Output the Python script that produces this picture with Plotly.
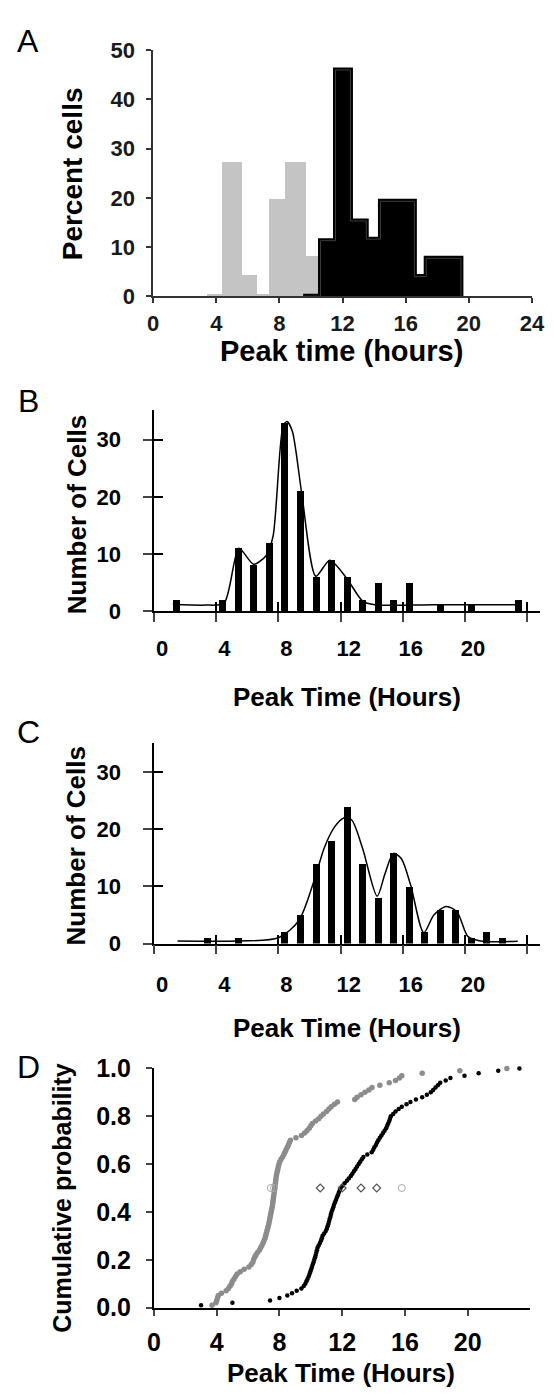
import plotly.graph_objects as go
import plotly.express as px

W, H = 554, 1399

# ---------------- Panel A data (percent cells) ----------------
a_gray_edges = [3.45, 4.35, 5.65, 6.62, 7.35, 8.35, 9.67, 10.5, 11.6, 13.44, 14.56]
a_gray_pct = [0.4, 27.3, 4.3, 0.4, 19.8, 27.3, 8.2, 11.0, 0.0, 4.1]
a_black_edges = [9.5, 10.6, 11.55, 12.5, 13.5, 14.4, 16.55, 17.3, 19.5]
a_black_pct = [0, 11.3, 46.0, 15.3, 11.6, 19.3, 4.0, 7.7]
a_xticks = [0, 4, 8, 12, 16, 20, 24]
a_yticks = [0, 10, 20, 30, 40, 50]

# ---------------- Panel B data ----------------
b_bin_x = [1.43, 4.43, 5.43, 6.43, 7.43, 8.43, 9.43, 10.43, 11.43, 12.43, 13.43,
           14.43, 15.43, 16.43, 18.43, 20.43, 23.43]
b_counts = [2, 2, 11, 8, 12, 33, 21, 6, 9, 6, 2, 5, 2, 5, 1, 1, 2]
b_curve_x = [1.2, 3.3, 4.5, 5.45, 6.4, 7.2, 7.65, 8.3, 8.55, 8.9, 9.5, 10.4, 11.3,
             12.35, 13.4, 14.2, 18.0, 23.5]
b_curve_y = [1.2, 1.05, 1.4, 11.0, 8.2, 9.7, 13.1, 32.5, 33.2, 31.4, 20.5, 6.1, 8.9,
             5.9, 1.8, 1.1, 1.1, 1.1]

# ---------------- Panel C data ----------------
c_bin_x = [3.43, 5.43, 8.43, 9.43, 10.43, 11.43, 12.43, 13.43, 14.43, 15.43, 16.43,
           17.43, 18.43, 19.43, 20.43, 21.43, 22.43]
c_counts = [1, 1, 2, 5, 14, 18, 24, 14, 8, 16, 10, 2, 6, 6, 1, 2, 1]
c_curve_x = [1.5, 5.4, 8.0, 9.3, 10.3, 10.95, 11.6, 12.2, 12.7, 13.4, 14.35, 14.85,
             15.4, 15.9, 16.5, 17.35, 18.0, 18.8, 19.5, 20.2, 21.0, 23.4]
c_curve_y = [0.45, 0.45, 1.0, 4.0, 11.1, 16.8, 20.4, 22.0, 21.7, 16.8, 8.3, 12.2,
             15.8, 14.9, 10.3, 1.9, 5.0, 6.5, 5.5, 1.2, 0.45, 0.4]
bc_xticks = [0, 4, 8, 12, 16, 20, 24]
bc_xticktext = ["0", "4", "8", "12", "16", "20", ""]
bc_yticks = [0, 10, 20, 30]

# ---------------- Panel D data (peak times of individual cells) ----------------
d_gray_times = [3.7, 3.95, 4.0, 4.05, 4.1, 4.3, 4.6, 4.75, 4.85, 4.95,
                5.0, 5.1, 5.2, 5.3, 5.5, 5.75, 6.05, 6.2, 6.3, 6.35,
                6.42, 6.5, 6.6, 6.72, 6.8, 6.88, 6.95, 7.02, 7.08, 7.12,
                7.16, 7.2, 7.24, 7.28, 7.32, 7.35, 7.38, 7.41, 7.44, 7.47,
                7.5, 7.53, 7.56, 7.58, 7.6, 7.62, 7.64, 7.66, 7.68, 7.7,
                7.72, 7.74, 7.76, 7.78, 7.8, 7.83, 7.86, 7.9, 7.93, 7.97,
                8.02, 8.1, 8.2, 8.28, 8.35, 8.42, 8.5, 8.57, 8.63, 8.7,
                9.05, 9.4, 9.6, 9.75, 9.9, 10.0, 10.1, 10.3, 10.5, 10.65,
                10.8, 11.0, 11.15, 11.3, 11.5, 11.7, 12.8, 12.95, 13.2, 13.45,
                13.7, 13.9, 14.4, 15.0, 15.4, 15.65, 15.8, 17.1, 19.5, 22.5]
d_black_times = [3.0, 5.0, 7.4, 8.0, 8.5, 8.8, 9.1, 9.4, 9.55, 9.65,
                 9.72, 9.79, 9.86, 9.92, 9.97, 10.02, 10.07, 10.12, 10.17, 10.22,
                 10.27, 10.31, 10.35, 10.39, 10.43, 10.5, 10.58, 10.65, 10.7, 10.75,
                 10.85, 10.95, 11.02, 11.07, 11.12, 11.16, 11.2, 11.25, 11.28, 11.32,
                 11.38, 11.43, 11.48, 11.54, 11.6, 11.66, 11.72, 11.78, 11.84, 11.9,
                 12.02, 12.15, 12.3, 12.42, 12.55, 12.65, 12.75, 12.85, 12.95, 13.05,
                 13.15, 13.25, 13.35, 13.6, 13.88, 13.98, 14.05, 14.15, 14.22, 14.3,
                 14.4, 14.5, 14.6, 14.7, 14.8, 14.87, 14.93, 15.0, 15.05, 15.1,
                 15.25, 15.4, 15.6, 15.8, 16.1, 16.35, 16.7, 17.1, 17.4, 17.65,
                 17.8, 17.95, 18.1, 18.25, 18.6, 18.9, 19.8, 20.7, 21.95, 23.3]
d_median_circle_x = [7.45, 7.65, 15.8]
d_median_diamond_x = [10.6, 12.0, 13.2, 14.2]
d_median_level = 0.5
d_xticks = [0, 4, 8, 12, 16, 20]
d_yticks = [0.0, 0.2, 0.4, 0.6, 0.8, 1.0]
d_yticktext = ["0.0", "0.2", "0.4", "0.6", "0.8", "1.0"]


def fx(p):
    return p / W


def fy(p):
    return 1 - p / H


FONT = "Liberation Sans"
fig = go.Figure()

# ----- Panel A traces -----
a_gray_centers = [(a_gray_edges[i] + a_gray_edges[i + 1]) / 2 for i in range(len(a_gray_pct))]
a_gray_widths = [a_gray_edges[i + 1] - a_gray_edges[i] for i in range(len(a_gray_pct))]
fig.add_trace(go.Bar(x=a_gray_centers, y=a_gray_pct, width=a_gray_widths,
                     marker=dict(color="#c4c4c4", line=dict(width=0)),
                     xaxis="x", yaxis="y", showlegend=False))
a_bx = a_black_edges + [a_black_edges[-1]]
a_by = a_black_pct + [a_black_pct[-1], 0]
fig.add_trace(go.Scatter(x=a_bx, y=a_by, mode="lines", line=dict(shape="hv", color="black", width=5),
                         fill="tozeroy", fillcolor="black", xaxis="x", yaxis="y", showlegend=False,
                         cliponaxis=False))
fig.add_trace(go.Scatter(x=a_bx, y=a_by, mode="lines", line=dict(shape="hv", color="#3c3c3c", width=1),
                         xaxis="x", yaxis="y", showlegend=False, cliponaxis=False))

# ----- Panel B traces -----
fig.add_trace(go.Bar(x=b_bin_x, y=b_counts, width=0.45, marker=dict(color="black", line=dict(width=0)),
                     xaxis="x2", yaxis="y2", showlegend=False))
fig.add_trace(go.Scatter(x=b_curve_x, y=b_curve_y, mode="lines",
                         line=dict(shape="spline", smoothing=0.7, color="black", width=1.5),
                         xaxis="x2", yaxis="y2", showlegend=False))

# ----- Panel C traces -----
fig.add_trace(go.Bar(x=c_bin_x, y=c_counts, width=0.45, marker=dict(color="black", line=dict(width=0)),
                     xaxis="x3", yaxis="y3", showlegend=False))
fig.add_trace(go.Scatter(x=c_curve_x, y=c_curve_y, mode="lines",
                         line=dict(shape="spline", smoothing=0.8, color="black", width=1.5),
                         xaxis="x3", yaxis="y3", showlegend=False))

# ----- Panel D traces (ECDF computed by plotly express) -----
eg = px.ecdf(x=d_gray_times, markers=True, lines=False).data[0]
eb = px.ecdf(x=d_black_times, markers=True, lines=False).data[0]
fig.add_trace(go.Scatter(x=eg.x, y=eg.y, mode="markers", marker=dict(color="#8c8c8c", size=5.5),
                         xaxis="x4", yaxis="y4", showlegend=False, cliponaxis=False))
fig.add_trace(go.Scatter(x=eb.x, y=eb.y, mode="markers", marker=dict(color="black", size=4.5),
                         xaxis="x4", yaxis="y4", showlegend=False, cliponaxis=False))
fig.add_trace(go.Scatter(x=d_median_circle_x, y=[d_median_level] * len(d_median_circle_x), mode="markers",
                         marker=dict(symbol="circle-open", color="#a8a8a8", size=7, line=dict(width=1)),
                         xaxis="x4", yaxis="y4", showlegend=False))
fig.add_trace(go.Scatter(x=d_median_diamond_x, y=[d_median_level] * len(d_median_diamond_x), mode="markers",
                         marker=dict(symbol="diamond-open", color="#555555", size=6, line=dict(width=1.2)),
                         xaxis="x4", yaxis="y4", showlegend=False))

# invisible traces on overlay axes (crossing ticks for B and C)
fig.add_trace(go.Scatter(x=[None], y=[None], xaxis="x5", yaxis="y5", showlegend=False, hoverinfo="skip"))
fig.add_trace(go.Scatter(x=[None], y=[None], xaxis="x6", yaxis="y6", showlegend=False, hoverinfo="skip"))

# ----- Domains -----
dA_x = [fx(151.7), fx(151.7 + 24 * 16.37)]
dA_y = [fy(288), fy(37)]
dBC_x = [fx(152.7), fx(152.7 + 24.8 * 16.12)]
dB_y = [fy(609.3), fy(609.3 - 35.2 * 5.83)]
dC_y = [fy(948.5), fy(948.5 - 35.2 * 5.82)]
dD_x = [fx(152.5), fx(543)]
dD_y = [fy(1320), fy(1076)]

tickfontA = dict(family=FONT, size=22, color="#1a1a1a", weight="bold")
tickfontBC = dict(family=FONT, size=22, color="black", weight="bold")
tickfontD = dict(family=FONT, size=25, color="black", weight="bold")

common = dict(showgrid=False, zeroline=False, showline=True, fixedrange=True, ticklabeloverflow="allow")

fig.update_layout(
    width=W, height=H, margin=dict(l=0, r=0, t=0, b=0),
    paper_bgcolor="white", plot_bgcolor="rgba(0,0,0,0)", bargap=0, barmode="overlay",
    # A
    xaxis=dict(domain=dA_x, anchor="y", range=[0, 24], tickvals=a_xticks, ticks="outside", ticklen=5,
               tickwidth=1.5, linewidth=1.5, linecolor="#333", tickcolor="#333", tickfont=tickfontA,
               ticklabelstandoff=2, **common),
    yaxis=dict(domain=dA_y, anchor="x", range=[0, 50], tickvals=a_yticks, ticks="outside", ticklen=5,
               tickwidth=1.5, linewidth=1.5, linecolor="#333", tickcolor="#333", tickfont=tickfontA,
               ticklabelstandoff=7, **common),
    # B
    xaxis2=dict(domain=dBC_x, anchor="y2", range=[0, 24.8], tickvals=bc_xticks, ticktext=bc_xticktext,
                ticks="outside", ticklen=9, tickwidth=1.5, linewidth=1.5, linecolor="black",
                tickfont=tickfontBC, ticklabelshift=8, ticklabelstandoff=8, **common),
    yaxis2=dict(domain=dB_y, anchor="x2", range=[0, 35.2], tickvals=bc_yticks, ticks="outside", ticklen=9,
                tickwidth=1.5, linewidth=1.5, linecolor="black", tickfont=tickfontBC,
                ticklabelstandoff=18, **common),
    xaxis5=dict(domain=dBC_x, anchor="y5", overlaying="x2", range=[0, 24.8], tickvals=bc_xticks,
                ticks="inside", ticklen=9, tickwidth=1.5, tickcolor="black", showticklabels=False,
                showgrid=False, zeroline=False, showline=False, fixedrange=True),
    yaxis5=dict(domain=dB_y, anchor="x5", overlaying="y2", range=[0, 35.2], tickvals=bc_yticks,
                ticks="inside", ticklen=9, tickwidth=1.5, tickcolor="black", showticklabels=False,
                showgrid=False, zeroline=False, showline=False, fixedrange=True),
    # C
    xaxis3=dict(domain=dBC_x, anchor="y3", range=[0, 24.8], tickvals=bc_xticks, ticktext=bc_xticktext,
                ticks="outside", ticklen=9, tickwidth=1.5, linewidth=1.5, linecolor="black",
                tickfont=tickfontBC, ticklabelshift=8, ticklabelstandoff=11, **common),
    yaxis3=dict(domain=dC_y, anchor="x3", range=[0, 35.2], tickvals=bc_yticks, ticks="outside", ticklen=9,
                tickwidth=1.5, linewidth=1.5, linecolor="black", tickfont=tickfontBC,
                ticklabelstandoff=18, **common),
    xaxis6=dict(domain=dBC_x, anchor="y6", overlaying="x3", range=[0, 24.8], tickvals=bc_xticks,
                ticks="inside", ticklen=9, tickwidth=1.5, tickcolor="black", showticklabels=False,
                showgrid=False, zeroline=False, showline=False, fixedrange=True),
    yaxis6=dict(domain=dC_y, anchor="x6", overlaying="y3", range=[0, 35.2], tickvals=bc_yticks,
                ticks="inside", ticklen=9, tickwidth=1.5, tickcolor="black", showticklabels=False,
                showgrid=False, zeroline=False, showline=False, fixedrange=True),
    # D
    xaxis4=dict(domain=dD_x, anchor="y4", range=[0, 24], tickvals=d_xticks, ticks="outside", ticklen=6,
                tickwidth=2, linewidth=2, linecolor="black", tickfont=tickfontD, ticklabelstandoff=5, **common),
    yaxis4=dict(domain=dD_y, anchor="x4", range=[0, 1.0], tickvals=d_yticks, ticktext=d_yticktext,
                ticks="outside", ticklen=6, tickwidth=2, linewidth=2, linecolor="black", tickfont=tickfontD,
                ticklabelstandoff=10, **common),
)

# ----- Titles and panel letters -----
def ann(text, x, y, size, bold=True, angle=0):
    fig.add_annotation(text=("<b>%s</b>" % text) if bold else text, x=fx(x), y=fy(y), xref="paper",
                       yref="paper", showarrow=False, textangle=angle, xanchor="center", yanchor="middle",
                       font=dict(family=FONT, size=size, color="black"))

ann("A", 22, 28, 32, bold=False)
ann("B", 22, 395, 32, bold=False)
ann("C", 22, 733, 32, bold=False)
ann("D", 22, 1075, 32, bold=False)

ann("Peak time (hours)", 347, 344, 29)
ann("Percent cells", 68, 163, 28, angle=-90)
ann("Peak Time (Hours)", 353, 697, 26)
ann("Number of Cells", 72, 511, 26, angle=-90)
ann("Peak Time (Hours)", 353, 1035, 26)
ann("Number of Cells", 72, 849, 26, angle=-90)
ann("Peak Time (Hours)", 347, 1387, 26)
ann("Cumulative probability", 57, 1208, 25, angle=-90)

# remove the default page margin so the figure sits at the window origin
fig.write_html("out.html", config={"displayModeBar": False},
               post_script="document.body.style.margin='0';document.body.style.padding='0';")
